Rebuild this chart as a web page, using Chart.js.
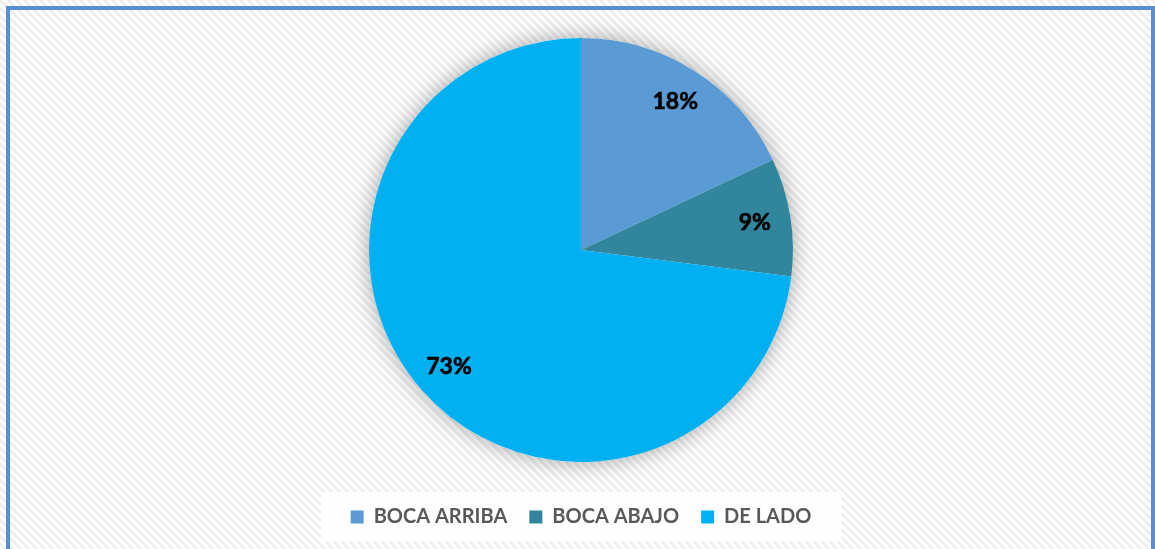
<!DOCTYPE html>
<html>
<head>
<meta charset="utf-8">
<script src="https://cdn.jsdelivr.net/npm/chart.js@4"></script>
<style>
    html, body { margin: 0; padding: 0; background: #fff; }
    #wrap { width: 1155px; height: 549px; position: relative; }
</style>
</head>
<body>
<div id="wrap"><canvas id="pie"></canvas></div>
<script>
// data
var labels = ["BOCA ARRIBA", "BOCA ABAJO", "DE LADO"];
var values = [18, 9, 73];
var colors = ["#5B9BD5", "#31859C", "#00B0F0"];

// diagonal hatch for the chart background
function makeHatch() {
    var c = document.createElement("canvas");
    c.width = 8;
    c.height = 8;
    var g = c.getContext("2d");
    g.fillStyle = "#ffffff";
    g.fillRect(0, 0, 8, 8);
    g.strokeStyle = "#ededed";
    g.lineWidth = 2.5;
    g.beginPath();
    g.moveTo(-2, -2); g.lineTo(10, 10);
    g.moveTo(-2, 6); g.lineTo(2, 10);
    g.moveTo(6, -2); g.lineTo(10, 2);
    g.stroke();
    return c;
}

var backdrop = {
    id: "backdrop",
    beforeDraw: function(chart) {
        var ctx = chart.ctx;
        ctx.save();
        ctx.fillStyle = ctx.createPattern(makeHatch(), "repeat");
        ctx.fillRect(0, 0, chart.width, chart.height);

        // white box behind the legend
        var boxes = chart.legend.legendHitBoxes;
        if (boxes && boxes.length) {
            var first = boxes[0], last = boxes[boxes.length - 1];
            var x0 = first.left - 30, x1 = last.left + last.width + 30;
            var cy = first.top + first.height / 2;
            ctx.fillStyle = "rgba(255,255,255,0.92)";
            ctx.fillRect(x0, cy - 25, x1 - x0, 50);
        }

        ctx.strokeStyle = "#5A8ED4";
        ctx.lineWidth = 4;
        ctx.strokeRect(8, 8, chart.width - 10, chart.height + 20);
        ctx.restore();
    },
    beforeDatasetsDraw: function(chart) {
        var arc = chart.getDatasetMeta(0).data[0];
        if (!arc) return;
        var ctx = chart.ctx;
        ctx.save();
        ctx.shadowColor = "rgba(0,0,0,0.35)";
        ctx.shadowBlur = 22;
        ctx.fillStyle = "#ffffff";
        ctx.beginPath();
        ctx.arc(arc.x, arc.y, arc.outerRadius, 0, Math.PI * 2);
        ctx.fill();
        ctx.restore();
    }
};

var sliceLabels = {
    id: "sliceLabels",
    afterDatasetsDraw: function(chart) {
        var ctx = chart.ctx;
        var meta = chart.getDatasetMeta(0);
        ctx.save();
        ctx.font = "bold 23px Lato";
        ctx.fillStyle = "#000000";
        ctx.strokeStyle = "#000000";
        ctx.lineWidth = 0.6;
        ctx.textAlign = "center";
        ctx.textBaseline = "middle";
        meta.data.forEach(function(arc, i) {
            var mid = (arc.startAngle + arc.endAngle) / 2;
            var r = arc.outerRadius * 0.83;
            var tx = arc.x + Math.cos(mid) * r, ty = arc.y + Math.sin(mid) * r;
            ctx.fillText(values[i] + "%", tx, ty);
            ctx.strokeText(values[i] + "%", tx, ty);
        });
        ctx.restore();
    }
};

var chart = new Chart("pie", {
    type: "pie",
    data: {
        labels: labels,
        datasets: [{
            data: values,
            backgroundColor: colors,
            borderWidth: 0,
            radius: 212
        }]
    },
    options: {
        responsive: true,
        maintainAspectRatio: false,
        animation: false,
        layout: {
            padding: { top: 15, bottom: 12, left: 7, right: 0 }
        },
        plugins: {
            legend: {
                position: "bottom",
                labels: {
                    boxWidth: 13,
                    boxHeight: 13,
                    padding: 22,
                    color: "#595959",
                    font: { family: "Lato", size: 20, weight: "bold" }
                }
            },
            tooltip: { enabled: false }
        }
    },
    plugins: [backdrop, sliceLabels]
});
</script>
</body>
</html>
